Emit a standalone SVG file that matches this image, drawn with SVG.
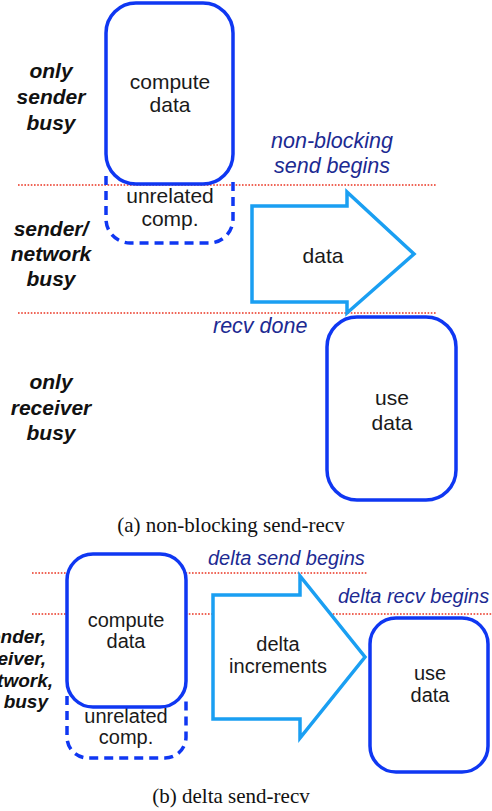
<svg xmlns="http://www.w3.org/2000/svg" width="492" height="811" viewBox="0 0 492 811">
  <style>
    .phase { fill: none; stroke: #ea3320; stroke-width: 1.3; stroke-dasharray: 1.6 1.6; }
    .task { fill: #ffffff; stroke: #0f37f2; stroke-width: 3.5; }
    .other { fill: none; stroke: #0f37f2; stroke-width: 3.5; stroke-dasharray: 9 6; }
    .msg { fill: #ffffff; stroke: #1a9ff2; stroke-width: 3.5; stroke-linejoin: miter; }
    .t { font-family: "Liberation Sans", Arial, sans-serif; fill: #1a1a1a; text-anchor: middle; }
    .ev { font-family: "Liberation Sans", Arial, sans-serif; font-style: italic; fill: #1c2a92; }
    .lbl { font-family: "Liberation Sans", Arial, sans-serif; font-style: italic; font-weight: bold; fill: #111111; }
    .cap { font-family: "Liberation Serif", "Times New Roman", serif; fill: #111111; text-anchor: middle; }
  </style>

  <!-- (a) non-blocking send-recv -->
  <g id="a-phases">
    <line class="phase" x1="18" y1="185" x2="437" y2="185"/>
    <line class="phase" x1="18" y1="313" x2="437" y2="313"/>
  </g>

  <g id="a-phase-labels" class="lbl" font-size="21" text-anchor="middle">
    <text x="51" y="78">only</text>
    <text x="51" y="104">sender</text>
    <text x="51" y="130">busy</text>
    <text x="51" y="236">sender/</text>
    <text x="51" y="261">network</text>
    <text x="51" y="286">busy</text>
    <text x="51" y="389">only</text>
    <text x="51" y="415">receiver</text>
    <text x="51" y="440">busy</text>
  </g>

  <g id="a-unrelated">
    <path class="other" d="M106,176 V219 A24,24 0 0 0 130,243 H209 A24,24 0 0 0 233,219 V176"/>
    <text class="t" font-size="21" x="170" y="203">unrelated</text>
    <text class="t" font-size="21" x="170" y="226">comp.</text>
  </g>

  <g id="a-compute">
    <rect class="task" x="106" y="3" width="127" height="181" rx="30"/>
    <text class="t" font-size="21" x="170" y="89">compute</text>
    <text class="t" font-size="21" x="170" y="112">data</text>
  </g>

  <g id="a-send-label" class="ev" font-size="21.5" text-anchor="middle">
    <text x="332" y="148">non-blocking</text>
    <text x="332" y="173">send begins</text>
  </g>

  <g id="a-data">
    <path class="msg" d="M252,206 H347 V192 L414,254 L347,313 V302 H252 Z"/>
    <text class="t" font-size="21" x="323" y="263">data</text>
  </g>

  <g id="a-recv-label">
    <text class="ev" font-size="21.5" x="213" y="333">recv done</text>
  </g>

  <g id="a-use">
    <rect class="task" x="327" y="317" width="129" height="183" rx="30"/>
    <text class="t" font-size="21" x="392" y="405">use</text>
    <text class="t" font-size="21" x="392" y="430">data</text>
  </g>

  <text class="cap" font-size="21" x="231" y="532">(a)  non-blocking send-recv</text>

  <!-- (b) delta send-recv -->
  <g id="b-phases">
    <line class="phase" x1="32" y1="573" x2="367" y2="573"/>
    <line class="phase" x1="32" y1="614" x2="492" y2="614"/>
  </g>

  <g id="b-phase-labels" class="lbl" font-size="19" text-anchor="end">
    <text x="46" y="643">sender,</text>
    <text x="46" y="665">receiver,</text>
    <text x="53" y="687">network,</text>
    <text x="48" y="708">busy</text>
  </g>

  <g id="b-unrelated">
    <path class="other" d="M67,696 V737 A21,21 0 0 0 88,758 H165 A21,21 0 0 0 186,737 V696"/>
    <text class="t" font-size="20" x="126" y="723">unrelated</text>
    <text class="t" font-size="20" x="126" y="744">comp.</text>
  </g>

  <g id="b-compute">
    <rect class="task" x="67" y="554" width="119" height="153" rx="26"/>
    <text class="t" font-size="20" x="126" y="627">compute</text>
    <text class="t" font-size="20" x="126" y="648">data</text>
  </g>

  <g id="b-event-labels" class="ev" font-size="20">
    <text x="208" y="565">delta send begins</text>
    <text x="338" y="603">delta recv begins</text>
  </g>

  <g id="b-delta">
    <path class="msg" d="M213,595 H300 V576 L365,657 L300,738 V719 H213 Z"/>
    <text class="t" font-size="20" x="278" y="651">delta</text>
    <text class="t" font-size="20" x="278" y="673">increments</text>
  </g>

  <g id="b-use">
    <rect class="task" x="370" y="618" width="118" height="154" rx="26"/>
    <text class="t" font-size="20" x="430" y="680">use</text>
    <text class="t" font-size="20" x="430" y="702">data</text>
  </g>

  <text class="cap" font-size="21" x="231" y="803">(b)  delta send-recv</text>
</svg>
